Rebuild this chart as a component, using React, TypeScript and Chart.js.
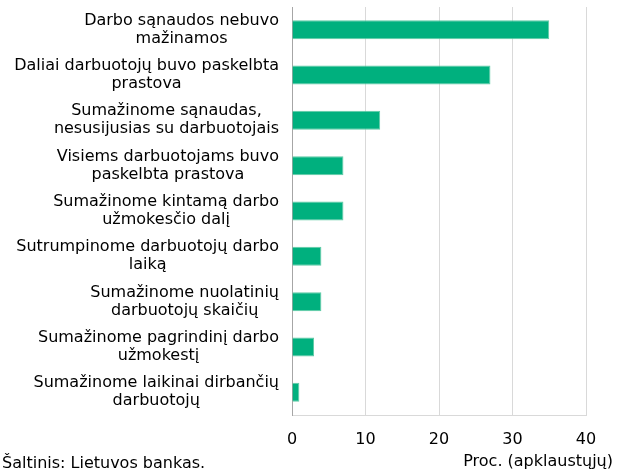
import React, { useEffect, useRef } from "react";
import { Chart, registerables } from "chart.js";

Chart.register(...registerables);

const categories: string[][] = [
  ["Darbo sąnaudos nebuvo", "mažinamos"],
  ["Daliai darbuotojų buvo paskelbta", "prastova"],
  ["Sumažinome sąnaudas,", "nesusijusias su darbuotojais"],
  ["Visiems darbuotojams buvo", "paskelbta prastova"],
  ["Sumažinome kintamą darbo", "užmokesčio dalį"],
  ["Sutrumpinome darbuotojų darbo", "laiką"],
  ["Sumažinome nuolatinių", "darbuotojų skaičių"],
  ["Sumažinome pagrindinį darbo", "užmokestį"],
  ["Sumažinome laikinai dirbančių", "darbuotojų"],
];
const values: number[] = [35, 27, 12, 7, 7, 4, 4, 3, 1];
const xTicks: number[] = [0, 10, 20, 30, 40];
const sourceText = "Šaltinis: Lietuvos bankas.";
const axisTitle = "Proc. (apklaustųjų)";

const FONT = "DejaVu Sans";
const SIZE = 16;
const LINE = 18;

export default function App() {
  const ref = useRef<HTMLCanvasElement | null>(null);
  useEffect(() => {
    document.body.style.margin = "0";
    const textPlugin = {
      id: "extraText",
      afterDraw(chart: any) {
        const ctx = chart.ctx;
        const yScale = chart.scales.y;
        ctx.save();
        ctx.fillStyle = "#000";
        ctx.font = `${SIZE}px "${FONT}"`;
        // category labels: block right-aligned, lines centred within block
        ctx.textAlign = "center";
        ctx.textBaseline = "middle";
        const right = yScale.right - 13;
        categories.forEach((lines, i) => {
          const yc = yScale.getPixelForTick(i);
          const w = Math.max(...lines.map((l) => ctx.measureText(l).width));
          const cx = right - w / 2;
          const top = yc - ((lines.length - 1) * LINE) / 2;
          lines.forEach((l, j) => ctx.fillText(l, cx, top + j * LINE));
        });
        ctx.textBaseline = "alphabetic";
        ctx.textAlign = "left";
        ctx.fillText(sourceText, 2, 468);
        ctx.textAlign = "right";
        ctx.fillText(axisTitle, 613, 466);
        ctx.restore();
      },
    };
    const chart = new Chart(ref.current!, {
      type: "bar",
      data: {
        labels: categories,
        datasets: [
          {
            data: values,
            backgroundColor: "#00b07e",
            borderColor: "#5fcaa5",
            borderWidth: 1,
            barPercentage: 0.42,
            categoryPercentage: 1,
          },
        ],
      },
      options: {
        indexAxis: "y",
        animation: false,
        responsive: false,
        layout: { padding: { left: 0, right: 36, top: 7, bottom: 0 } },
        plugins: { legend: { display: false }, tooltip: { enabled: false } },
        scales: {
          x: {
            min: 0,
            max: 40,
            afterBuildTicks(scale: any) {
              scale.ticks = xTicks.map((v) => ({ value: v }));
            },
            afterFit(scale: any) {
              scale.height = 57;
              scale.paddingLeft = 0;
              scale.paddingRight = 0;
            },
            grid: { color: "#d9d9d9", drawTicks: false, lineWidth: 1 },
            border: { color: "#d9d9d9" },
            ticks: {
              color: "#000",
              padding: 15,
              font: { family: FONT, size: SIZE },
            },
          },
          y: {
            afterFit(scale: any) {
              scale.width = 292;
              scale.paddingTop = 0;
              scale.paddingBottom = 0;
            },
            grid: { display: false, drawTicks: false },
            border: { color: "#a6a6a6", width: 1 },
            ticks: { display: false },
          },
        },
      },
      plugins: [textPlugin],
    } as any);
    return () => chart.destroy();
  }, []);
  return <canvas ref={ref} width={622} height={472} style={{ display: "block" }} />;
}
